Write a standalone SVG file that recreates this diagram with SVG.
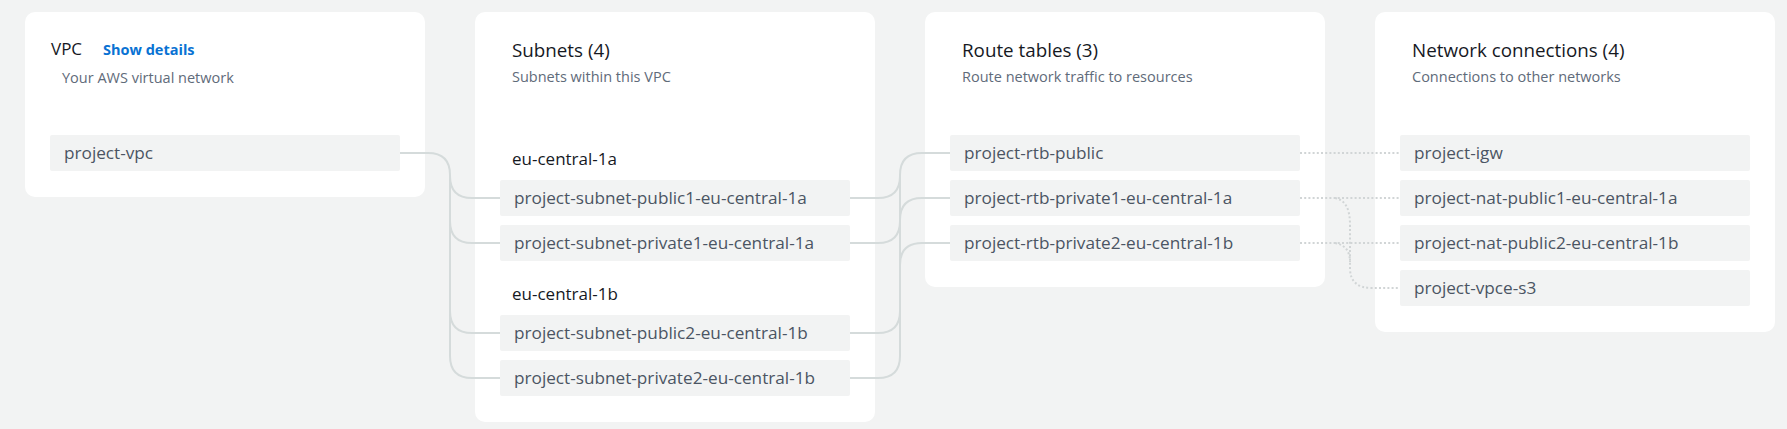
<svg xmlns="http://www.w3.org/2000/svg" width="1787" height="429" viewBox="0 0 1787 429">
<style>
text{font-family:"Open Sans","Noto Sans","Liberation Sans",sans-serif;}
.panel{fill:#ffffff;}
.item{fill:#f2f3f3;}
.h{font-size:18.8px;fill:#16191f;}
.sub{font-size:14.5px;fill:#5f6b7a;}
.it{font-size:17.2px;fill:#4b5563;}
.az{font-size:17px;fill:#16191f;}
.link{font-size:14.5px;font-weight:700;fill:#0972d3;}
.solid{fill:none;stroke:#d5dbdb;stroke-width:2;}
.dot{fill:none;stroke:#d1d5d6;stroke-width:2;stroke-dasharray:2 2.2;}
</style>
<rect x="0" y="0" width="1787" height="429" fill="#f2f3f3"/>
<g id="vpc-panel">
<rect class="panel" x="25" y="12" width="400" height="185" rx="10"/>
<text class="h" x="51" y="55" style="font-size:17px">VPC</text>
<text class="link" x="103" y="55">Show details</text>
<text class="sub" x="62" y="83">Your AWS virtual network</text>
</g>
<g id="subnets-panel">
<rect class="panel" x="475" y="12" width="400" height="410" rx="10"/>
<text class="h" x="512" y="57">Subnets (4)</text>
<text class="sub" x="512" y="82">Subnets within this VPC</text>
<text class="az" x="512" y="165">eu-central-1a</text>
<text class="az" x="512" y="300">eu-central-1b</text>
</g>
<g id="routes-panel">
<rect class="panel" x="925" y="12" width="400" height="275" rx="10"/>
<text class="h" x="962" y="57">Route tables (3)</text>
<text class="sub" x="962" y="82">Route network traffic to resources</text>
</g>
<g id="connections-panel">
<rect class="panel" x="1375" y="12" width="400" height="320" rx="10"/>
<text class="h" x="1412" y="57">Network connections (4)</text>
<text class="sub" x="1412" y="82">Connections to other networks</text>
</g>
<g id="connectors">
<path class="solid" d="M400,153 H428 Q450,153 450,175 V356 Q450,378 472,378 H500"/>
<path class="solid" d="M450,176 Q450,198 472,198 H500"/>
<path class="solid" d="M450,221 Q450,243 472,243 H500"/>
<path class="solid" d="M450,311 Q450,333 472,333 H500"/>
<path class="solid" d="M850,198 H878 Q900,198 900,176"/>
<path class="solid" d="M850,243 H878 Q900,243 900,221"/>
<path class="solid" d="M850,333 H878 Q900,333 900,311"/>
<path class="solid" d="M850,378 H878 Q900,378 900,356 V175 Q900,153 922,153 H950"/>
<path class="solid" d="M900,220 Q900,198 922,198 H950"/>
<path class="solid" d="M900,265 Q900,243 922,243 H950"/>
<path class="dot" d="M1300,153 H1400"/>
<path class="dot" d="M1300,198 H1400"/>
<path class="dot" d="M1300,243 H1400"/>
<path class="dot" d="M1335,198 C1346,200 1350,210 1350,225 V268 C1350,282 1358,288 1372,288 H1400"/>
<path class="dot" d="M1335,243 C1346,245 1350,252 1350,262"/>
</g>
<g id="project-vpc"><rect class="item" x="50" y="135" width="350" height="36" rx="2"/><text class="it" x="64" y="158.5">project-vpc</text></g>
<g id="subnet-public1"><rect class="item" x="500" y="180" width="350" height="36" rx="2"/><text class="it" x="514" y="203.5">project-subnet-public1-eu-central-1a</text></g>
<g id="subnet-private1"><rect class="item" x="500" y="225" width="350" height="36" rx="2"/><text class="it" x="514" y="248.5">project-subnet-private1-eu-central-1a</text></g>
<g id="subnet-public2"><rect class="item" x="500" y="315" width="350" height="36" rx="2"/><text class="it" x="514" y="338.5">project-subnet-public2-eu-central-1b</text></g>
<g id="subnet-private2"><rect class="item" x="500" y="360" width="350" height="36" rx="2"/><text class="it" x="514" y="383.5">project-subnet-private2-eu-central-1b</text></g>
<g id="rtb-public"><rect class="item" x="950" y="135" width="350" height="36" rx="2"/><text class="it" x="964" y="158.5">project-rtb-public</text></g>
<g id="rtb-private1"><rect class="item" x="950" y="180" width="350" height="36" rx="2"/><text class="it" x="964" y="203.5">project-rtb-private1-eu-central-1a</text></g>
<g id="rtb-private2"><rect class="item" x="950" y="225" width="350" height="36" rx="2"/><text class="it" x="964" y="248.5">project-rtb-private2-eu-central-1b</text></g>
<g id="igw"><rect class="item" x="1400" y="135" width="350" height="36" rx="2"/><text class="it" x="1414" y="158.5">project-igw</text></g>
<g id="nat-public1"><rect class="item" x="1400" y="180" width="350" height="36" rx="2"/><text class="it" x="1414" y="203.5">project-nat-public1-eu-central-1a</text></g>
<g id="nat-public2"><rect class="item" x="1400" y="225" width="350" height="36" rx="2"/><text class="it" x="1414" y="248.5">project-nat-public2-eu-central-1b</text></g>
<g id="vpce-s3"><rect class="item" x="1400" y="270" width="350" height="36" rx="2"/><text class="it" x="1414" y="293.5">project-vpce-s3</text></g>
</svg>
